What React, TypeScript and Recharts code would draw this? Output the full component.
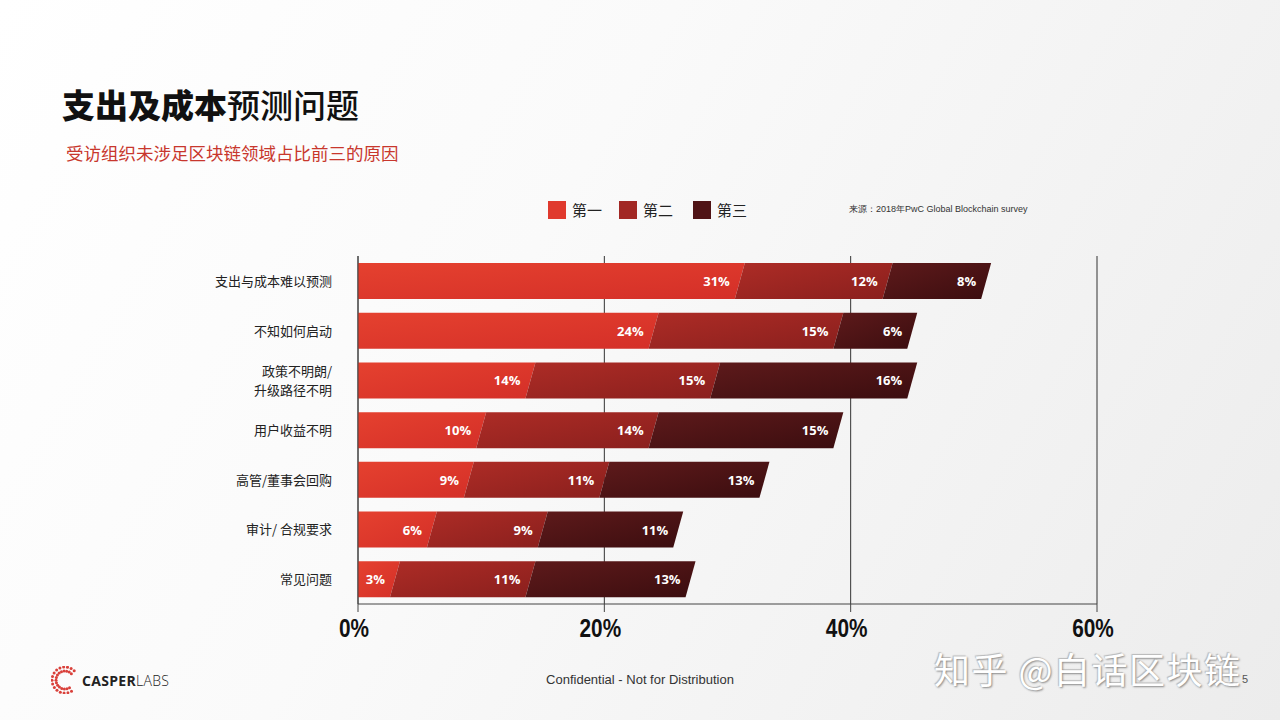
import { BarChart, Bar, XAxis, YAxis, CartesianGrid, LabelList } from 'recharts';

const categories = ['支出与成本难以预测', '不知如何启动', '政策不明朗/\n升级路径不明', '用户收益不明', '高管/董事会回购', '审计/ 合规要求', '常见问题'];
const first = [31, 24, 14, 10, 9, 6, 3];
const second = [12, 15, 15, 14, 11, 9, 11];
const third = [8, 6, 16, 15, 13, 11, 13];
const xTicks = [0, 20, 40, 60];
const seriesNames = ['第一', '第二', '第三'];
const seriesColors = ['#e03a2e', '#a22824', '#501416'];

const data = categories.map((name, i) => ({ name, first: first[i], second: second[i], third: third[i] }));

const SLANT = 5;

function makeShape(k: number) {
    return (props: any) => {
        const { x, y, width, height, fill } = props;
        if (!width || width <= 0) return <g />;
        const lt = k === 0 ? x : x + SLANT;
        const lb = k === 0 ? x : x - SLANT;
        const d = `M${lt},${y} L${x + width + SLANT},${y} L${x + width - SLANT},${y + height} L${lb},${y + height} Z`;
        return <path d={d} fill={fill} />;
    };
}

const renderValue = (props: any) => {
    const { x, y, width, height, value } = props;
    return (
        <text x={x + width - 10} y={y + height / 2 + 5} textAnchor="end" fill="#fff"
            style={{ fontFamily: '"Open Sans", sans-serif', fontWeight: 700, fontSize: 13 }}>
            {value}%
        </text>
    );
};

const CategoryTick = (props: any) => {
    const { y, payload } = props;
    const lines = String(payload.value).split('\n');
    const start = y - (lines.length - 1) * 9.5 + 5;
    return (
        <text x={332} y={start} textAnchor="end" fill="#222"
            style={{ fontFamily: '"Noto Sans CJK SC", sans-serif', fontSize: 13 }}>
            {lines.map((l, i) => (
                <tspan key={i} x={332} y={start + i * 19}>{l}</tspan>
            ))}
        </text>
    );
};

const PercentTick = (props: any) => {
    const { x, y, payload } = props;
    return (
        <text transform={`translate(${x - 4},${y + 23}) scale(0.8,1)`} textAnchor="middle" fill="#111"
            style={{ fontFamily: '"Liberation Sans", sans-serif', fontWeight: 700, fontSize: 26 }}>
            {payload.value}%
        </text>
    );
};

function ChartLegend() {
    return (
        <div style={{ position: 'absolute', top: 199, left: 548, display: 'flex', alignItems: 'center', fontFamily: '"Noto Sans CJK SC", sans-serif', whiteSpace: 'nowrap' }}>
            {seriesNames.map((n, i) => (
                <div key={n} style={{ display: 'flex', alignItems: 'center', marginRight: i === 0 ? 17 : 20 }}>
                    <div style={{ width: 18, height: 18, background: seriesColors[i], marginRight: 6 }} />
                    <span style={{ fontSize: 15, color: '#222' }}>{n}</span>
                </div>
            ))}
            <span style={{ fontSize: 9, color: '#333', marginLeft: 82, fontFamily: '"Liberation Sans", sans-serif' }}>
                来源：2018年PwC Global Blockchain survey
            </span>
        </div>
    );
}

function Logo() {
    const dots = [];
    for (let i = 0; i < 16; i++) {
        const a = (Math.PI / 180) * (45 + i * 17);
        for (let r = 0; r < 2; r++) {
            const rad = 9 + r * 4;
            dots.push(<circle key={`${i}-${r}`} cx={14 + rad * Math.cos(a)} cy={14 - rad * Math.sin(a)} r={1.5} fill="#d9403a" />);
        }
    }
    return (
        <div style={{ position: 'absolute', left: 51, top: 666, display: 'flex', alignItems: 'center' }}>
            <svg width={28} height={28}>{dots}</svg>
            <span style={{ marginLeft: 3, fontFamily: '"Open Sans", sans-serif', fontSize: 14, color: '#222', letterSpacing: 0.3 }}>
                <b>CASPER</b><span style={{ fontWeight: 300 }}>LABS</span>
            </span>
        </div>
    );
}

export default function App() {
    return (
        <div style={{ position: 'absolute', left: 0, top: 0, width: 1280, height: 720, overflow: 'hidden',
            background: 'linear-gradient(120deg, #ffffff 0%, #fafafa 40%, #ececec 100%)' }}>
            <div style={{ position: 'absolute', left: 62, top: 80, fontFamily: '"Noto Sans CJK SC", sans-serif', fontSize: 33, color: '#111', whiteSpace: 'nowrap' }}>
                <span style={{ fontWeight: 900 }}>支出及成本</span><span style={{ fontWeight: 500 }}>预测问题</span>
            </div>
            <div style={{ position: 'absolute', left: 66, top: 140, fontFamily: '"Noto Sans CJK SC", sans-serif', fontSize: 17.5, color: '#c8372d', whiteSpace: 'nowrap' }}>
                受访组织未涉足区块链领域占比前三的原因
            </div>
            <ChartLegend />
            <div style={{ position: 'absolute', left: 0, top: 0 }}>
                <BarChart width={1280} height={720} data={data} layout="vertical" barSize={36}
                    margin={{ top: 256, right: 183, bottom: 76, left: 0 }}>
                    <defs>
                        <linearGradient id="g0" x1="0" y1="0" x2="1" y2="1">
                            <stop offset="0%" stopColor="#e5412f" />
                            <stop offset="100%" stopColor="#d42f28" />
                        </linearGradient>
                        <linearGradient id="g1" x1="0" y1="0" x2="1" y2="1">
                            <stop offset="0%" stopColor="#ad2c26" />
                            <stop offset="100%" stopColor="#8a1f1d" />
                        </linearGradient>
                        <linearGradient id="g2" x1="0" y1="0" x2="1" y2="1">
                            <stop offset="0%" stopColor="#5e1a1b" />
                            <stop offset="100%" stopColor="#3b0d0f" />
                        </linearGradient>
                    </defs>
                    <CartesianGrid horizontal={false} stroke="#333" />
                    <XAxis type="number" domain={[0, 60]} ticks={xTicks} height={40} tickSize={8}
                        axisLine={{ stroke: '#444' }} tickLine={{ stroke: '#444' }} tick={<PercentTick />} />
                    <YAxis type="category" dataKey="name" width={358} tickLine={false}
                        axisLine={{ stroke: '#444' }} tick={<CategoryTick />} interval={0} />
                    <Bar dataKey="first" stackId="a" fill="url(#g0)" shape={makeShape(0)} isAnimationActive={false}>
                        <LabelList dataKey="first" content={renderValue} />
                    </Bar>
                    <Bar dataKey="second" stackId="a" fill="url(#g1)" shape={makeShape(1)} isAnimationActive={false}>
                        <LabelList dataKey="second" content={renderValue} />
                    </Bar>
                    <Bar dataKey="third" stackId="a" fill="url(#g2)" shape={makeShape(2)} isAnimationActive={false}>
                        <LabelList dataKey="third" content={renderValue} />
                    </Bar>
                </BarChart>
            </div>
            <Logo />
            <div style={{ position: 'absolute', left: 0, width: 1280, top: 672, textAlign: 'center', fontFamily: '"Liberation Sans", sans-serif', fontSize: 13, color: '#333' }}>
                Confidential - Not for Distribution
            </div>
            <div style={{ position: 'absolute', left: 934, top: 642, fontFamily: '"Noto Sans CJK SC", sans-serif', fontSize: 36, letterSpacing: 1.5, color: '#fff', whiteSpace: 'nowrap',
                textShadow: '1px 1px 2px #888, -1px -1px 1px #bbb' }}>
                知乎 @白话区块链
            </div>
            <div style={{ position: 'absolute', left: 1242, top: 673, fontFamily: '"Liberation Sans", sans-serif', fontSize: 11, color: '#555' }}>5</div>
        </div>
    );
}
